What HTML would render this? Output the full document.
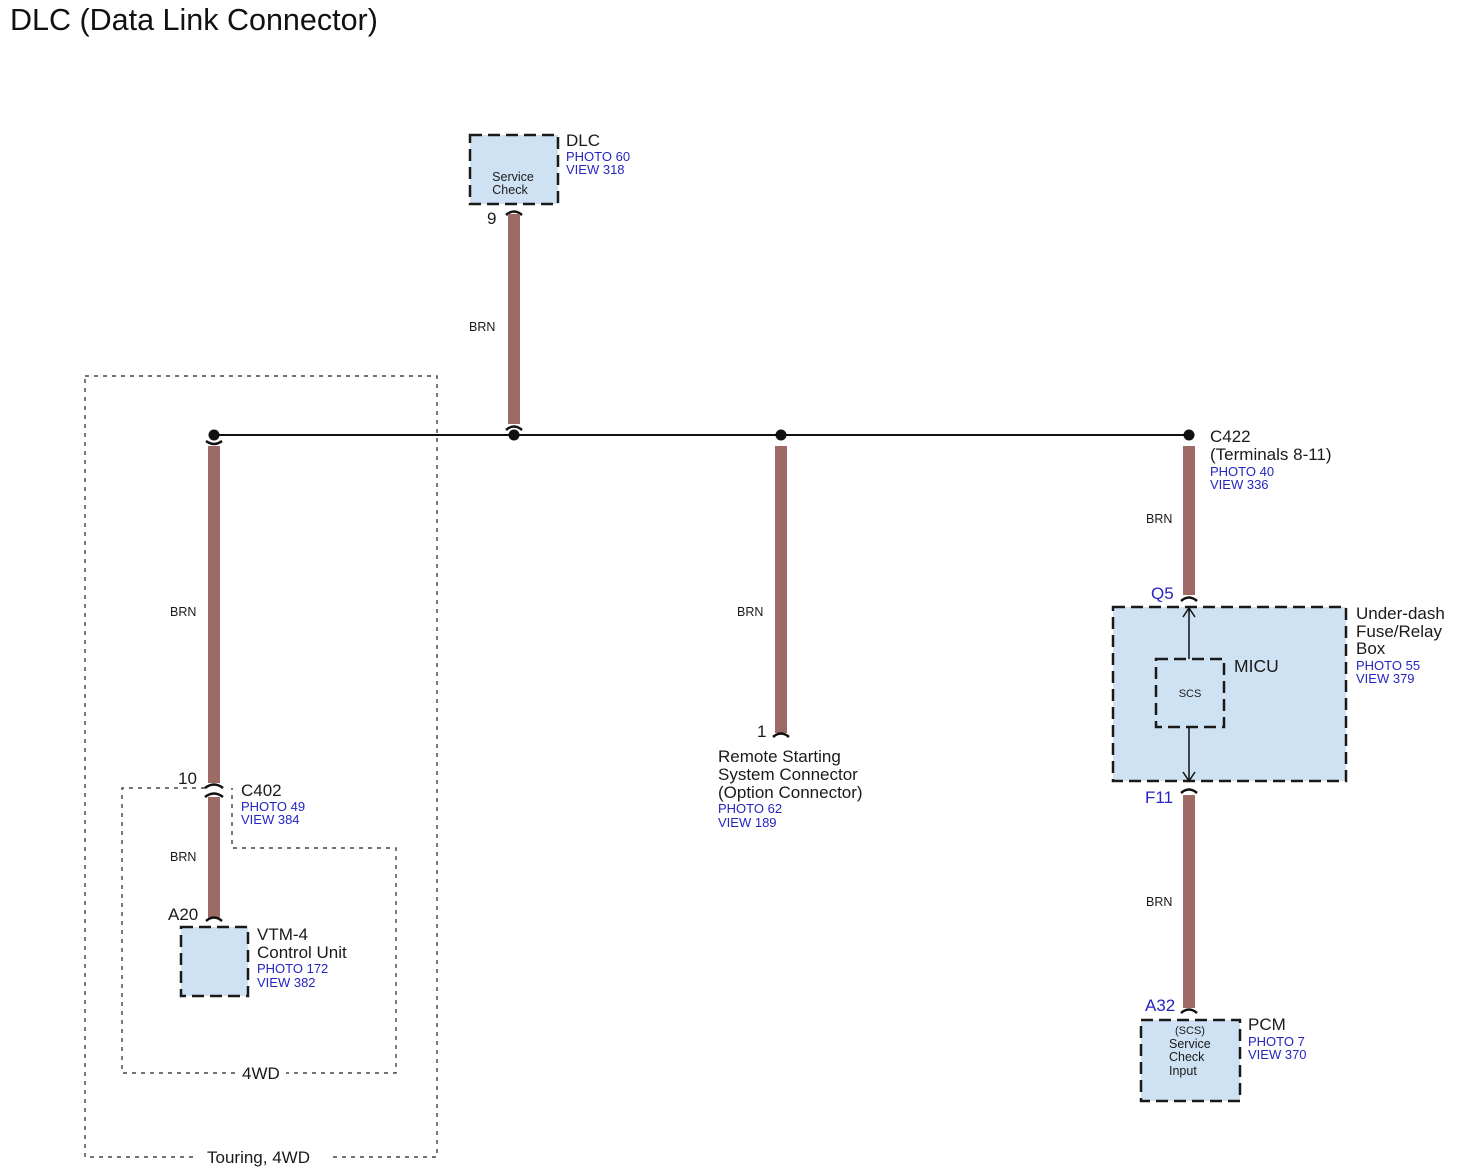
<!DOCTYPE html>
<html><head><meta charset="utf-8"><style>
html,body{margin:0;padding:0;background:#fff;}
svg{display:block;font-family:"Liberation Sans",Arial,sans-serif;}
.b{fill:#1a1a1a;font-size:17px}
.p{fill:#2525c0;font-size:13px}
.w{stroke:#9e6a66;stroke-width:12;fill:none}
.box{fill:#cfe2f3;stroke:#1a1a1a;stroke-width:2.5;stroke-dasharray:12,6}
.dot{fill:none;stroke:#222;stroke-width:1.2;stroke-dasharray:4,5}
.arc{fill:none;stroke:#111;stroke-width:2.5}
.s{fill:#1a1a1a;font-size:12.5px}
</style></head><body>
<svg width="1462" height="1174" viewBox="0 0 1462 1174" xmlns="http://www.w3.org/2000/svg">
<text x="10" y="30" style="font-size:30.5px;fill:#111">DLC (Data Link Connector)</text>

<rect x="85" y="376" width="352" height="781" class="dot"/>
<rect x="198" y="1147" width="132" height="20" fill="#fff"/>
<text x="207" y="1163" class="b">Touring, 4WD</text>
<polyline points="205,788 122,788 122,1073 396,1073 396,848 232,848 232,788" class="dot"/>
<rect x="236" y="1064" width="50" height="18" fill="#fff"/>
<text x="242" y="1079" class="b">4WD</text>

<rect x="470" y="135" width="88" height="69" class="box"/>
<text x="513" y="181" class="s" text-anchor="middle">Service</text>
<text x="510" y="194" class="s" text-anchor="middle">Check</text>
<text x="566" y="146" class="b">DLC</text>
<text x="566" y="161" class="p">PHOTO 60</text>
<text x="566" y="174" class="p">VIEW 318</text>
<text x="487" y="224" class="b">9</text>
<path d="M506,215 Q514,208 522,215" class="arc"/>
<line x1="514" y1="214" x2="514" y2="424" class="w"/>
<path d="M506,430 Q514,423 522,430" class="arc"/>
<text x="469" y="331" class="s">BRN</text>

<line x1="214" y1="435" x2="1189" y2="435" stroke="#111" stroke-width="2"/>
<circle cx="214" cy="435" r="5.5" fill="#111"/>
<circle cx="514" cy="435" r="5.5" fill="#111"/>
<circle cx="781" cy="435" r="5.5" fill="#111"/>
<circle cx="1189" cy="435" r="5.5" fill="#111"/>

<path d="M206,441 Q214,447 222,441" class="arc"/>
<line x1="214" y1="446" x2="214" y2="783" class="w"/>
<text x="170" y="616" class="s">BRN</text>
<text x="178" y="784" class="b">10</text>
<path d="M205,788 Q214,781 223,788" class="arc"/>
<path d="M205,797 Q214,790 223,797" class="arc"/>
<line x1="214" y1="797" x2="214" y2="918" class="w"/>
<text x="170" y="861" class="s">BRN</text>
<text x="241" y="796" class="b">C402</text>
<text x="241" y="811" class="p">PHOTO 49</text>
<text x="241" y="824" class="p">VIEW 384</text>
<text x="168" y="920" class="b">A20</text>
<path d="M206,921 Q214,914 222,921" class="arc"/>
<rect x="181" y="927" width="67" height="69" class="box"/>
<text x="257" y="940" class="b">VTM-4</text>
<text x="257" y="958" class="b">Control Unit</text>
<text x="257" y="973" class="p">PHOTO 172</text>
<text x="257" y="987" class="p">VIEW 382</text>

<line x1="781" y1="446" x2="781" y2="733" class="w"/>
<path d="M773,737 Q781,730 789,737" class="arc"/>
<text x="737" y="616" class="s">BRN</text>
<text x="757" y="737" class="b">1</text>
<text x="718" y="762" class="b">Remote Starting</text>
<text x="718" y="780" class="b">System Connector</text>
<text x="718" y="798" class="b">(Option Connector)</text>
<text x="718" y="813" class="p">PHOTO 62</text>
<text x="718" y="827" class="p">VIEW 189</text>

<text x="1210" y="442" class="b">C422</text>
<text x="1210" y="460" class="b">(Terminals 8-11)</text>
<text x="1210" y="476" class="p">PHOTO 40</text>
<text x="1210" y="489" class="p">VIEW 336</text>
<line x1="1189" y1="446" x2="1189" y2="595" class="w"/>
<text x="1146" y="523" class="s">BRN</text>
<text x="1151" y="599" class="b" style="fill:#2525c0">Q5</text>
<path d="M1181,601 Q1189,594 1197,601" class="arc"/>
<rect x="1113" y="607" width="233" height="174" class="box"/>
<rect x="1156" y="659" width="68" height="68" class="box"/>
<text x="1190" y="697" class="s" text-anchor="middle" style="font-size:11px">SCS</text>
<text x="1234" y="672" class="b" style="font-size:17.5px">MICU</text>
<line x1="1189" y1="608" x2="1189" y2="659" stroke="#111" stroke-width="1.5"/>
<path d="M1183,617 L1189,608 L1195,617" fill="none" stroke="#111" stroke-width="1.5"/>
<line x1="1189" y1="727" x2="1189" y2="781" stroke="#111" stroke-width="1.5"/>
<path d="M1183,772 L1189,781 L1195,772" fill="none" stroke="#111" stroke-width="1.5"/>
<text x="1356" y="619" class="b">Under-dash</text>
<text x="1356" y="637" class="b">Fuse/Relay</text>
<text x="1356" y="654" class="b">Box</text>
<text x="1356" y="670" class="p">PHOTO 55</text>
<text x="1356" y="683" class="p">VIEW 379</text>
<text x="1145" y="803" class="b" style="fill:#2525c0">F11</text>
<path d="M1181,793 Q1189,786 1197,793" class="arc"/>
<line x1="1189" y1="795" x2="1189" y2="1008" class="w"/>
<text x="1146" y="906" class="s">BRN</text>
<text x="1145" y="1011" class="b" style="fill:#2525c0">A32</text>
<path d="M1181,1013 Q1189,1006 1197,1013" class="arc"/>
<rect x="1141" y="1020" width="99" height="81" class="box"/>
<text x="1190" y="1034" class="s" text-anchor="middle" style="font-size:11px">(SCS)</text>
<text x="1169" y="1048" class="s">Service</text>
<text x="1169" y="1061" class="s">Check</text>
<text x="1169" y="1075" class="s">Input</text>
<text x="1248" y="1030" class="b">PCM</text>
<text x="1248" y="1046" class="p">PHOTO 7</text>
<text x="1248" y="1059" class="p">VIEW 370</text>
</svg>
</body></html>
